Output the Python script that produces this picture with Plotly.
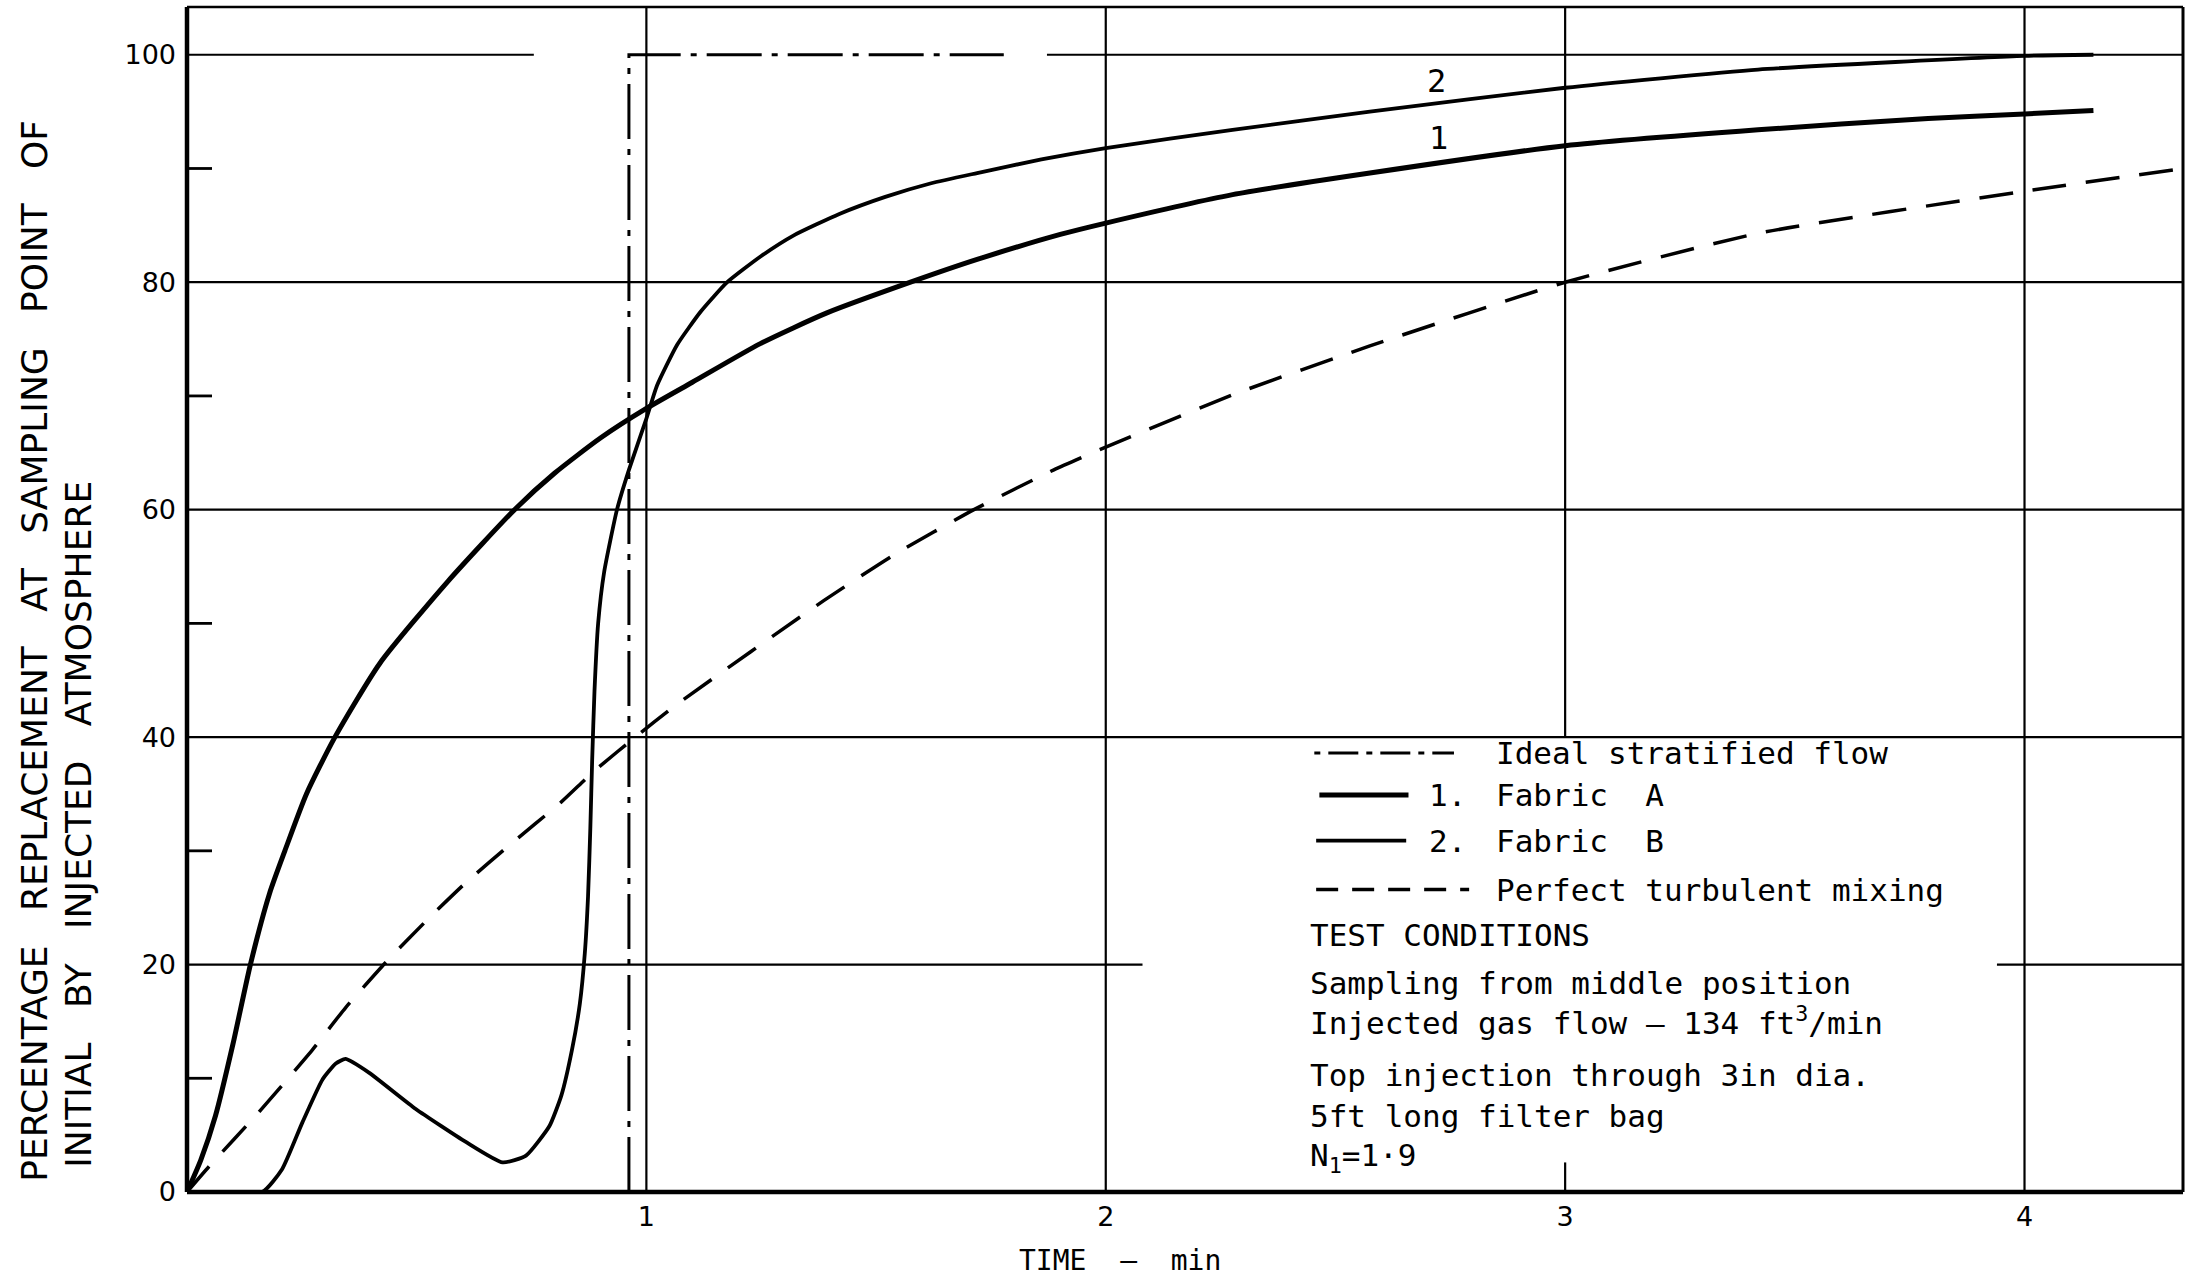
import plotly.graph_objects as go

# ---------------- data ----------------
fabric_a_t = [0, 0.03, 0.062, 0.1, 0.138, 0.18, 0.213, 0.26, 0.322, 0.42,
              0.568, 0.713, 0.8, 0.9, 1.0, 1.1, 1.248, 1.393, 1.575, 1.72,
              1.901, 2.0, 2.276, 2.575, 3.0, 3.42, 3.79, 4.0, 4.15]
fabric_a_pct = [0, 2.8, 6.7, 13.0, 20.0, 26.3, 30.0, 35.0, 40.0, 46.5,
                53.7, 60.0, 63.2, 66.3, 68.9, 71.2, 74.6, 77.3, 80.0, 82.0,
                84.2, 85.2, 87.7, 89.6, 92.0, 93.4, 94.4, 94.8, 95.1]

fabric_b_t = [0, 0.164, 0.207, 0.251, 0.295, 0.324, 0.345, 0.396, 0.498, 0.607,
              0.687, 0.738, 0.789, 0.815, 0.838, 0.855, 0.866, 0.873, 0.878,
              0.882, 0.887, 0.895, 0.908, 0.936, 0.962, 1.0, 1.023, 1.067,
              1.118, 1.176, 1.25, 1.32, 1.42, 1.52, 1.62, 1.72, 1.86, 2.0,
              2.276, 2.575, 3.0, 3.42, 4.0, 4.15]
fabric_b_pct = [0, 0, 2.0, 6.1, 9.9, 11.3, 11.7, 10.5, 7.3, 4.4,
                2.6, 3.2, 5.8, 8.5, 12.5, 16.5, 21.0, 26.0, 32.0,
                38.0, 44.0, 50.0, 54.5, 60.0, 63.5, 68.0, 70.9, 74.5,
                77.4, 80.0, 82.3, 84.1, 86.0, 87.5, 88.7, 89.6, 90.8, 91.8,
                93.4, 95.0, 97.1, 98.7, 99.9, 100.0]

mixing_t = [0, 0.047, 0.156, 0.273, 0.345, 0.433, 0.527, 0.607, 0.702,
            0.815, 0.886, 0.988, 1.067, 1.386, 1.538, 1.713, 1.887, 2.0,
            2.276, 2.575, 3.0, 3.42, 4.0, 4.345]
mixing_pct = [0, 2.2, 7.0, 12.5, 16.2, 20.2, 24.1, 27.2, 30.5,
              34.3, 37.0, 40.4, 42.9, 52.0, 56.0, 60.0, 63.5, 65.5,
              70.1, 74.4, 80.0, 84.3, 88.0, 90.0]

stratified_t = [0.962, 0.962, 1.778]
stratified_pct = [0, 100, 100]

x_tick_values = [1, 2, 3, 4]
x_tick_labels = ["1", "2", "3", "4"]
y_tick_values = [0, 20, 40, 60, 80, 100]
y_tick_labels = ["0", "20", "40", "60", "80", "100"]
y_minor_values = [10, 30, 50, 70, 90]

NB2 = "\u00a0\u00a0"
NB3 = "\u00a0\u00a0\u00a0"
legend_entries = ["Ideal stratified flow", "Fabric" + NB2 + "A", "Fabric" + NB2 + "B",
                  "Perfect\u00a0turbulent\u00a0mixing"]
legend_numbers = ["1.", "2."]
conditions = [
    "TEST CONDITIONS",
    "Sampling from middle position",
    "Injected gas flow\u00a0\u2013\u00a0134 ft<sup>3</sup>/min",
    "Top injection through 3in dia.",
    "5ft long filter bag",
    "N<sub>1</sub>=1\u00b79",
]
y_title_lines = [NB3.join(["PERCENTAGE", "REPLACEMENT", "AT", "SAMPLING", "POINT", "OF"]),
                 NB3.join(["INITIAL", "BY", "INJECTED", "ATMOSPHERE"])]
x_title = "TIME" + NB2 + "\u2014" + NB2 + "min"

# ---------------- styling ----------------
FONT = "DejaVu Sans Mono"
SANS = "DejaVu Sans"
INK = "#000000"
X_MAX, Y_MAX = 4.345, 104.2
GRID_W = 2.2

fig = go.Figure()

fig.add_trace(go.Scatter(x=mixing_t, y=mixing_pct, mode="lines",
                         line=dict(color=INK, width=3.5, dash="34px,20px",
                                   shape="spline", smoothing=0.5),
                         hoverinfo="skip", showlegend=False))
fig.add_trace(go.Scatter(x=stratified_t, y=stratified_pct, mode="lines",
                         line=dict(color=INK, width=3, dash="55px,10px,6px,10px"),
                         hoverinfo="skip", showlegend=False))
fig.add_trace(go.Scatter(x=fabric_b_t, y=fabric_b_pct, mode="lines",
                         line=dict(color=INK, width=3.8, shape="spline", smoothing=0.5),
                         hoverinfo="skip", showlegend=False))
fig.add_trace(go.Scatter(x=fabric_a_t, y=fabric_a_pct, mode="lines",
                         line=dict(color=INK, width=5, shape="spline", smoothing=0.6),
                         hoverinfo="skip", showlegend=False))

shapes = []

def hline(y, x0, x1, w=GRID_W, layer="below", dash="solid"):
    shapes.append(dict(type="line", xref="x", yref="y", x0=x0, x1=x1, y0=y, y1=y,
                       line=dict(color=INK, width=w, dash=dash), layer=layer))

def vline(x, y0, y1, w=GRID_W, layer="below"):
    shapes.append(dict(type="line", xref="x", yref="y", x0=x, x1=x, y0=y0, y1=y1,
                       line=dict(color=INK, width=w), layer=layer))

# grid (with the gaps of the original drawing)
hline(20, 0, 2.08); hline(20, 3.94, X_MAX)
for gy in (40, 60, 80):
    hline(gy, 0, X_MAX)
hline(100, 0, 0.755); hline(100, 1.872, X_MAX)
vline(1, 0, Y_MAX); vline(2, 0, Y_MAX); vline(4, 0, Y_MAX)
vline(3, 40, Y_MAX); vline(3, 0, 2.6)

# minor ticks on the y axis (inside)
for my in y_minor_values:
    shapes.append(dict(type="line", xref="x", yref="y", xsizemode="pixel", xanchor=0,
                       x0=0, x1=25, y0=my, y1=my, line=dict(color=INK, width=2.8)))

# frame
shapes.append(dict(type="line", xref="paper", yref="paper", x0=0, x1=0, y0=0, y1=1,
                   line=dict(color=INK, width=4.5)))
shapes.append(dict(type="line", xref="paper", yref="paper", x0=0, x1=1, y0=0, y1=0,
                   line=dict(color=INK, width=4.5)))
shapes.append(dict(type="line", xref="paper", yref="paper", x0=0, x1=1, y0=1, y1=1,
                   line=dict(color=INK, width=2.6)))
shapes.append(dict(type="line", xref="paper", yref="paper", x0=1, x1=1, y0=0, y1=1,
                   line=dict(color=INK, width=3)))

# legend samples
leg_y = [38.6, 34.9, 30.9, 26.6]
hline(leg_y[0], 2.454, 2.758, w=3, layer="above", dash="6px,8px,30px,8px")
hline(leg_y[1], 2.465, 2.659, w=5, layer="above")
hline(leg_y[2], 2.458, 2.654, w=3.8, layer="above")
hline(leg_y[3], 2.458, 2.791, w=3.5, layer="above", dash="22px,14px")

annotations = []
for txt, y in zip(legend_entries, leg_y):
    annotations.append(dict(x=2.845, y=y, xref="x", yref="y", text=txt, showarrow=False,
                            xanchor="left", yanchor="middle",
                            font=dict(family=FONT, size=31, color=INK)))
for txt, y in zip(legend_numbers, leg_y[1:3]):
    annotations.append(dict(x=2.70, y=y, xref="x", yref="y", text=txt, showarrow=False,
                            xanchor="left", yanchor="middle",
                            font=dict(family=FONT, size=31, color=INK)))
cond_y = [22.6, 18.4, 15.0, 10.3, 6.7, 3.0]
for txt, y in zip(conditions, cond_y):
    annotations.append(dict(x=2.441, y=y, xref="x", yref="y", text=txt, showarrow=False,
                            xanchor="left", yanchor="middle",
                            font=dict(family=FONT, size=31, color=INK)))

# curve labels
annotations.append(dict(x=2.72, y=97.7, xref="x", yref="y", text="2", showarrow=False,
                        font=dict(family=FONT, size=32, color=INK)))
annotations.append(dict(x=2.724, y=92.7, xref="x", yref="y", text="1", showarrow=False,
                        font=dict(family=FONT, size=32, color=INK)))

# axis titles
annotations.append(dict(x=-0.0765, y=0.457, xref="paper", yref="paper", text=y_title_lines[0],
                        textangle=-90, showarrow=False, xanchor="center", yanchor="middle",
                        font=dict(family=SANS, size=36, color=INK)))
annotations.append(dict(x=-0.0545, y=0.31, xref="paper", yref="paper", text=y_title_lines[1],
                        textangle=-90, showarrow=False, xanchor="center", yanchor="middle",
                        font=dict(family=SANS, size=36, color=INK)))
annotations.append(dict(x=2.032, y=-0.0582, xref="x", yref="paper", text=x_title,
                        showarrow=False, xanchor="center", yanchor="middle",
                        font=dict(family=FONT, size=28, color=INK)))

fig.update_layout(
    width=2201, height=1277,
    margin=dict(l=187, r=18, t=7, b=85),
    paper_bgcolor="white", plot_bgcolor="white",
    shapes=shapes, annotations=annotations,
    showlegend=False,
    xaxis=dict(range=[0, X_MAX], showgrid=False, zeroline=False, showline=False,
               tickvals=x_tick_values, ticktext=x_tick_labels, ticks="",
               ticklabelstandoff=6,
               tickfont=dict(family=SANS, size=27, color=INK), fixedrange=True),
    yaxis=dict(range=[0, Y_MAX], showgrid=False, zeroline=False, showline=False,
               tickvals=y_tick_values, ticktext=y_tick_labels, ticks="",
               ticklabelstandoff=10,
               tickfont=dict(family=SANS, size=27, color=INK), fixedrange=True),
)

fig.write_html("out.html")
